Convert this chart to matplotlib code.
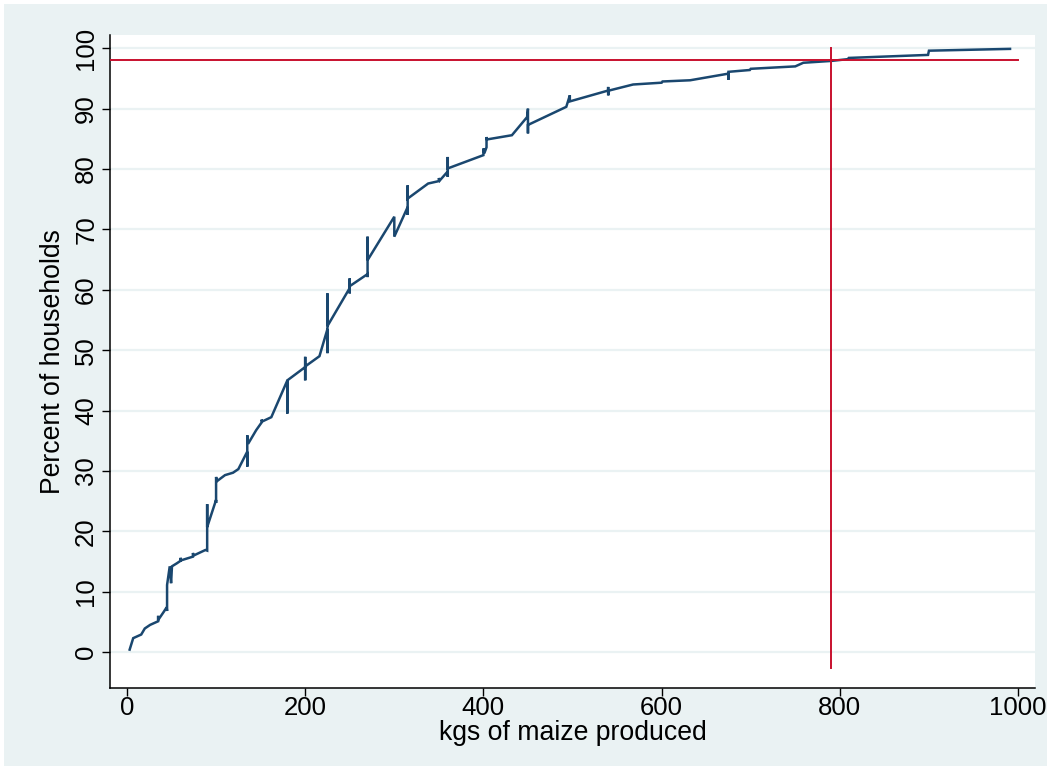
import numpy as np
import matplotlib.pyplot as plt

# cumulative share of households by maize harvest (kg), in plotting order
kgs = [3, 7, 16, 20, 26, 35, 35, 35, 41, 44.5, 45, 45, 48, 49.5, 50.5, 56, 60, 60, 61,
       74, 74, 75, 88, 90, 90, 90, 100, 100, 100, 101, 110, 119, 125, 135, 135, 135, 136,
       145, 151, 151, 152, 162, 180, 180, 180, 200, 200, 200, 200, 216, 225, 225, 225, 225,
       250, 250, 250, 250, 270, 270, 270, 270, 300, 300, 315, 315, 315, 315, 338, 350, 350,
       351, 360, 360, 360, 360, 400, 400, 401, 403.5, 403.5, 404, 432, 449, 450, 450, 450,
       493, 497, 497, 540, 540, 540, 541, 568, 600, 601, 632, 675, 675, 675, 699, 700,
       750, 759, 790, 809, 810, 899, 900, 991]
pct = [0.4, 2.3, 2.9, 3.9, 4.5, 5.1, 6.0, 5.3, 6.6, 7.4, 6.8, 11.1, 14.2, 11.4, 14.2, 14.7, 15.1, 15.6, 15.2,
       15.8, 16.4, 16.0, 16.9, 16.8, 24.5, 20.7, 25.2, 24.7, 29.0, 28.3, 29.3, 29.7, 30.3, 33.2, 30.7, 35.9, 34.5,
       36.75, 38.0, 38.5, 38.2, 38.9, 45.0, 39.5, 45.0, 47.2, 48.9, 45.0, 47.3, 49.0, 53.5, 49.5, 59.4, 54.0,
       60.3, 59.4, 61.9, 60.6, 62.6, 62.1, 68.8, 64.9, 72.1, 68.8, 73.7, 72.4, 77.3, 75.1, 77.6, 78.0, 78.5,
       78.1, 79.6, 78.7, 82.0, 80.1, 82.3, 83.4, 82.6, 83.6, 85.3, 84.9, 85.6, 88.6, 90.0, 85.9, 87.3,
       90.3, 92.2, 91.2, 93.0, 93.6, 92.2, 93.0, 94.0, 94.3, 94.5, 94.7, 95.8, 94.8, 96.1, 96.4, 96.6,
       97.0, 97.6, 97.9, 98.2, 98.4, 98.9, 99.6, 99.9]

cut_kgs = 790
cut_pct = 98

xticks = [0, 200, 400, 600, 800, 1000]
yticks = list(range(0, 101, 10))

bg = '#EAF2F3'
navy = '#1A476F'
red = '#C8102E'

plt.rcParams['font.family'] = ['Liberation Sans', 'DejaVu Sans']

fig = plt.figure(figsize=(10.5, 7.69), dpi=100)
fig.patch.set_facecolor(bg)
fig.patch.set_edgecolor('white')
fig.patch.set_linewidth(5)
ax = fig.add_axes([0.1048, 0.1053, 0.8809, 0.8492])
ax.set_facecolor('white')

ax.set_xlim(-19, 1019)
ax.set_ylim(-5.96, 102.2)

for y in yticks:
    ax.axhline(y, color=bg, lw=1.6, zorder=1)

ax.plot(kgs, pct, color=navy, lw=1.8, zorder=3, solid_joinstyle='miter')

ax.plot([-19, 1000], [cut_pct, cut_pct], color=red, lw=1.4, zorder=4)
ax.plot([cut_kgs, cut_kgs], [-2.65, 100], color=red, lw=1.4, zorder=4)

ax.set_xticks(xticks)
ax.set_yticks(yticks)
ax.tick_params(axis='both', direction='out', length=5.5, width=1, color='black',
               labelsize=18.5, pad=3)
ax.tick_params(axis='x', pad=0)
ax.tick_params(axis='y', labelrotation=90)
for lab in ax.get_yticklabels():
    lab.set_va('center')

for s in ['top', 'right']:
    ax.spines[s].set_visible(False)
for s in ['left', 'bottom']:
    ax.spines[s].set_color('black')
    ax.spines[s].set_linewidth(1.1)

ax.set_xlabel('kgs of maize produced', fontsize=19.2, labelpad=0.5)
ax.set_ylabel('Percent of households', fontsize=19.2, labelpad=6)

fig.savefig('out.png', dpi=100, facecolor=fig.get_facecolor(), edgecolor='white')
